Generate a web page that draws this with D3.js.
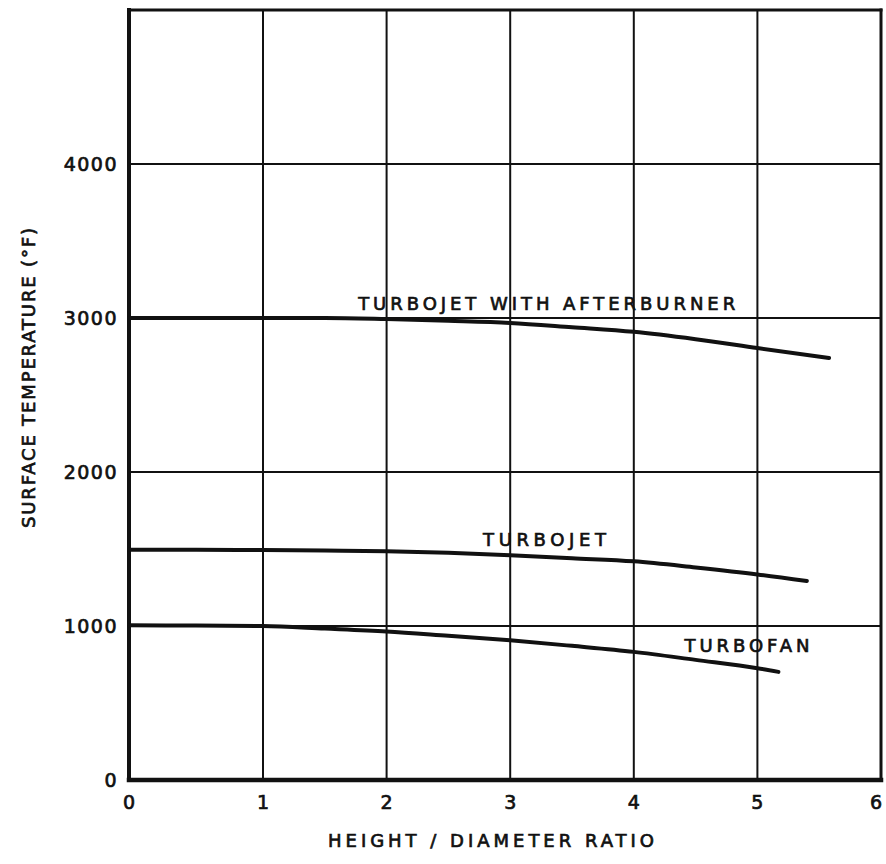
<!DOCTYPE html>
<html>
<head>
<meta charset="utf-8">
<script src="https://cdn.jsdelivr.net/npm/d3@7"></script>
<style>
  html, body { margin: 0; padding: 0; background: #fff; }
  svg { display: block; }
  text { font-family: "DejaVu Sans", sans-serif; fill: #111; stroke: #111; stroke-width: 0.7px; }
</style>
</head>
<body>
<svg id="chart" width="886" height="864"></svg>
<script>
// ---- data ----
const xTicks = [0, 1, 2, 3, 4, 5, 6];
const yTicks = [0, 1000, 2000, 3000, 4000];
const xTickLabels = ["0", "1", "2", "3", "4", "5", "6"];
const yTickLabels = ["0", "1000", "2000", "3000", "4000"];

const afterburnerX = [0, 0.5, 1, 1.5, 2, 2.5, 3, 3.5, 4, 4.5, 5, 5.58];
const afterburnerY = [3000, 3000, 3000, 3000, 2993, 2982, 2968, 2940, 2910, 2862, 2805, 2740];

const turbojetX = [0, 0.5, 1, 1.5, 2, 2.5, 3, 3.5, 4, 4.5, 5, 5.4];
const turbojetY = [1495, 1495, 1493, 1490, 1486, 1475, 1460, 1440, 1420, 1380, 1335, 1292];

const turbofanX = [0, 0.5, 1, 1.5, 2, 2.5, 3, 3.5, 4, 4.5, 5, 5.17];
const turbofanY = [1005, 1003, 1000, 983, 964, 936, 907, 871, 832, 780, 726, 702];

const seriesNames = ["TURBOJET WITH AFTERBURNER", "TURBOJET", "TURBOFAN"];
const xTitle = "HEIGHT / DIAMETER RATIO";
const yTitle = "SURFACE TEMPERATURE (°F)";

// ---- scales ----
const svg = d3.select("#chart");
const x = d3.scaleLinear().domain([0, 1, 6]).range([129, 263, 881]);
const y = d3.scaleLinear().domain([0, 5000]).range([780, 10]);

// gridlines
const g = svg.append("g");
g.selectAll("line.vx").data(xTicks.slice(1, -1)).join("line")
  .attr("x1", d => x(d)).attr("x2", d => x(d))
  .attr("y1", y(5000)).attr("y2", y(0))
  .attr("stroke", "#111").attr("stroke-width", 2);
g.selectAll("line.hy").data(yTicks.slice(1)).join("line")
  .attr("y1", d => y(d)).attr("y2", d => y(d))
  .attr("x1", x(0)).attr("x2", x(6))
  .attr("stroke", "#111").attr("stroke-width", 2);

// frame
const frame = [
  {x1: x(0), y1: y(0), x2: x(0), y2: y(5000), w: 4},
  {x1: x(0), y1: y(0), x2: x(6), y2: y(0), w: 4.5},
  {x1: x(0), y1: y(5000), x2: x(6), y2: y(5000), w: 3},
  {x1: x(6), y1: y(0), x2: x(6), y2: y(5000), w: 3}
];
g.selectAll("line.frame").data(frame).join("line")
  .attr("x1", d => d.x1).attr("y1", d => d.y1)
  .attr("x2", d => d.x2).attr("y2", d => d.y2)
  .attr("stroke", "#111").attr("stroke-width", d => d.w)
  .attr("stroke-linecap", "square");

// curves
const line = d3.line().x(d => x(d[0])).y(d => y(d[1])).curve(d3.curveMonotoneX);
const series = [
  d3.zip(afterburnerX, afterburnerY),
  d3.zip(turbojetX, turbojetY),
  d3.zip(turbofanX, turbofanY)
];
svg.selectAll("path.curve").data(series).join("path")
  .attr("d", line)
  .attr("fill", "none").attr("stroke", "#111")
  .attr("stroke-width", 4).attr("stroke-linecap", "round");

// series labels (start position, data units)
const labels = [
  {t: seriesNames[0], x: 1.77, y: 3052, len: 377},
  {t: seriesNames[1], x: 2.78, y: 1520, len: 123},
  {t: seriesNames[2], x: 4.41, y: 833, len: 125}
];
svg.selectAll("text.lab").data(labels).join("text")
  .attr("x", d => x(d.x)).attr("y", d => y(d.y))
  .attr("text-anchor", "start")
  .attr("font-size", 18)
  .attr("textLength", d => d.len).attr("lengthAdjust", "spacing")
  .text(d => d.t);

// tick labels
svg.selectAll("text.xt").data(xTicks).join("text")
  .attr("x", d => Math.min(x(d), 876)).attr("y", 809)
  .attr("text-anchor", "middle").attr("font-size", 19)
  .text((d, i) => xTickLabels[i]);
svg.selectAll("text.yt").data(yTicks).join("text")
  .attr("x", 118).attr("y", d => y(d) + 7)
  .attr("text-anchor", "end").attr("font-size", 19)
  .attr("letter-spacing", 1.5)
  .text((d, i) => yTickLabels[i]);

// axis titles
svg.append("text")
  .attr("x", 328).attr("y", 847)
  .attr("text-anchor", "start").attr("font-size", 18)
  .attr("textLength", 326).attr("lengthAdjust", "spacing")
  .text(xTitle);
svg.append("text")
  .attr("transform", "translate(35,528) rotate(-90)")
  .attr("text-anchor", "start").attr("font-size", 18)
  .attr("textLength", 300).attr("lengthAdjust", "spacing")
  .text(yTitle);
</script>
</body>
</html>
